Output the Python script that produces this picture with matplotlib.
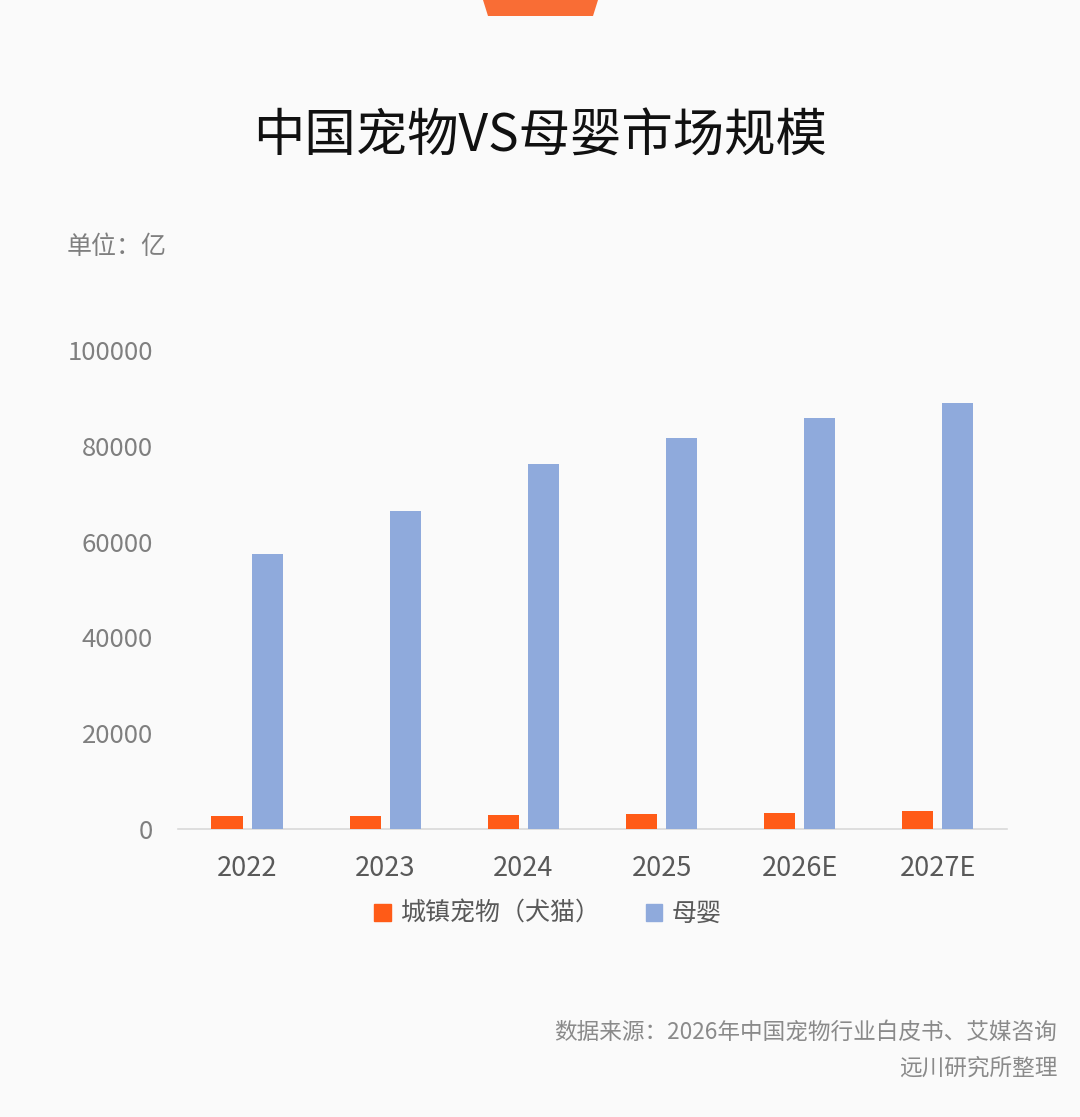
import matplotlib
matplotlib.use("Agg")
import matplotlib.pyplot as plt
from matplotlib.patches import Polygon, Patch

plt.rcParams['font.family'] = ['Noto Sans CJK SC', 'DejaVu Sans']

years = ['2022', '2023', '2024', '2025', '2026E', '2027E']
pet = [2650, 2750, 2950, 3150, 3350, 3700]
baby = [57400, 66400, 76200, 81600, 85800, 88900]
series_names = ['城镇宠物（犬猫）', '母婴']

ORANGE = '#FF5B17'
BLUE = '#8FAADC'
BG = '#FAFAFA'


def plot_market():
    fig = plt.figure(figsize=(10.8, 11.17), dpi=100, facecolor=BG)
    ax = fig.add_axes([0.1648, 0.2578, 0.7676, 0.4289], facecolor=BG)

    x = list(range(len(years)))
    w = 0.225
    ax.bar([i - 0.145 for i in x], pet, width=w, color=ORANGE, zorder=3)
    ax.bar([i + 0.145 for i in x], baby, width=w, color=BLUE, zorder=3)

    ax.set_xlim(-0.5, len(years) - 0.5)
    ax.set_ylim(0, 100000)
    ax.set_yticks(range(0, 100001, 20000))
    ax.set_xticks(x)
    ax.set_xticklabels(years)

    for s in ['top', 'right', 'left']:
        ax.spines[s].set_visible(False)
    ax.spines['bottom'].set_color('#D9D9D9')
    ax.spines['bottom'].set_linewidth(1.2)
    ax.tick_params(axis='y', length=0, pad=18, labelsize=18.5, labelcolor='#7F7F7F')
    ax.tick_params(axis='x', length=0, pad=19, labelsize=19.5, labelcolor='#595959')

    # title and notes
    fig.text(0.5, 1 - 137 / 1117, '中国宠物VS母婴市场规模', ha='center', va='center',
             fontsize=37, fontweight='medium', color='#111111')
    fig.text(67 / 1080, 1 - 247 / 1117, '单位：亿', ha='left', va='center',
             fontsize=18, color='#7F7F7F')
    fig.text(1057 / 1080, 1 - 1032 / 1117, '数据来源：2026年中国宠物行业白皮书、艾媒咨询',
             ha='right', va='center', fontsize=16.3, color='#8A8A8A')
    fig.text(1057 / 1080, 1 - 1068 / 1117, '远川研究所整理',
             ha='right', va='center', fontsize=16.3, color='#8A8A8A')

    handles = [Patch(color=ORANGE), Patch(color=BLUE)]
    fig.legend(handles, series_names, loc='center', bbox_to_anchor=(548 / 1080, 1 - 914 / 1117),
               ncol=2, frameon=False, fontsize=18, handlelength=0.65, handleheight=0.65,
               handletextpad=0.4, columnspacing=1.8, labelcolor='#595959')

    # orange tab at the top
    tab = Polygon([(483 / 1080, 1.0), (598 / 1080, 1.0), (593 / 1080, 1 - 16 / 1117),
                   (488 / 1080, 1 - 16 / 1117)], closed=True, transform=fig.transFigure,
                  facecolor='#F96D35', edgecolor='none')
    fig.patches.append(tab)

    fig.savefig('out.png', dpi=100, facecolor=BG)


if __name__ == "__main__":
    plot_market()
